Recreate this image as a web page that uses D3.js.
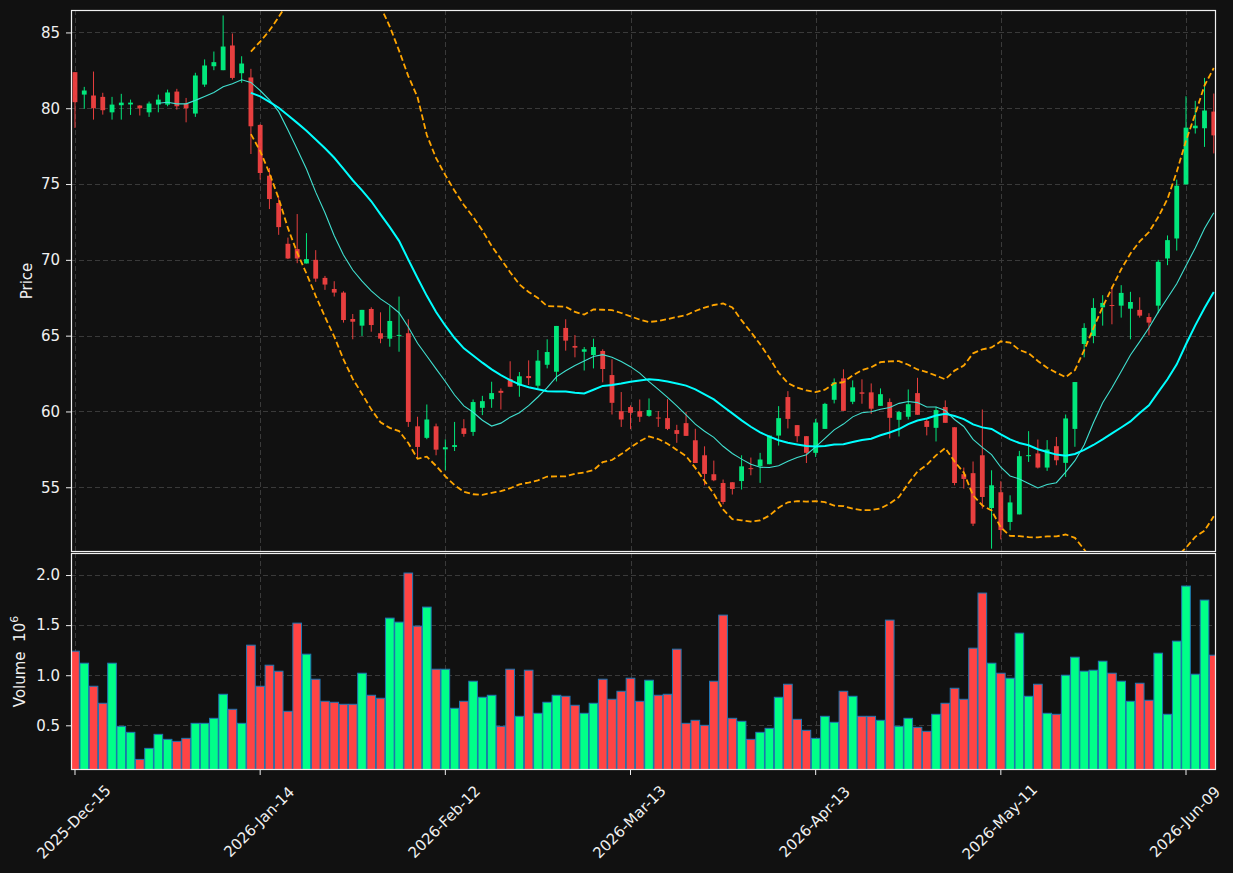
<!DOCTYPE html>
<html>
<head>
<meta charset="utf-8">
<script src="https://cdn.jsdelivr.net/npm/d3@7"></script>
<style>
  body { margin: 0; background: #111111; }
  text { font-family: "DejaVu Sans", sans-serif; fill: #f0f0f0; }
</style>
</head>
<body>
<div id="chart"></div>
<script>
// candle data, one entry per trading day (index 0 = 2025-12-15)
const opens = [82.38,80.90,80.84,80.75,79.73,80.20,80.25,80.18,79.73,80.24,80.24,81.10,80.31,79.65,81.56,82.77,82.51,84.14,82.31,82.03,
  78.90,75.55,73.75,71.06,70.71,69.76,70.00,68.81,68.08,67.84,66.10,65.66,66.76,65.16,64.80,65.00,65.16,59.02,58.26,59.02,
  57.50,57.66,58.89,58.65,60.24,60.81,61.36,62.14,61.70,62.34,61.70,63.08,62.62,65.51,64.32,63.94,63.72,63.99,62.40,60.02,
  60.29,60.02,59.71,59.60,59.56,58.77,59.23,58.10,57.11,55.86,55.28,55.33,55.41,56.26,56.39,56.52,58.41,60.95,59.10,58.37,
  57.27,58.85,60.77,62.18,60.64,61.26,61.26,60.37,60.62,59.45,59.65,61.21,59.38,58.92,60.29,58.96,55.86,55.93,57.11,53.63,
  54.67,52.71,53.21,57.05,57.23,56.30,57.71,56.61,58.85,64.45,64.98,66.87,67.02,66.98,66.78,66.70,66.23,66.98,70.09,71.41,
  74.98,78.68,78.68,79.78];
const highs = [82.38,81.41,82.42,81.02,80.75,80.95,80.57,80.20,80.44,80.90,81.23,81.28,80.68,82.34,83.22,83.74,86.12,84.93,83.43,82.60,
  78.95,76.06,74.18,71.47,73.02,71.76,70.64,68.94,68.59,67.93,66.43,66.70,66.87,66.54,66.98,67.58,66.08,59.65,60.46,59.20,
  58.16,59.31,59.49,60.79,61.03,61.96,61.52,63.31,62.60,63.37,64.05,64.76,65.64,66.08,65.04,64.25,64.80,64.10,63.44,61.28,
  60.40,60.79,60.86,60.02,60.81,59.12,59.98,58.86,57.70,56.76,55.51,55.33,57.11,56.96,57.27,58.41,60.35,61.34,59.10,58.37,
  59.51,60.57,62.18,62.78,62.05,62.12,61.85,61.52,60.86,60.04,61.45,62.22,59.56,60.31,60.73,58.96,56.30,56.70,60.13,56.12,
  55.40,54.47,57.40,58.70,58.15,58.11,58.32,59.80,61.94,65.82,67.47,67.67,68.24,68.33,67.89,67.53,66.48,70.00,71.61,75.29,
  80.79,80.49,82.00,80.97];
const lows = [78.70,79.96,79.25,79.58,79.25,79.25,79.56,79.52,79.43,79.73,80.13,79.91,79.07,79.43,81.41,82.51,82.51,81.89,81.68,76.98,
  75.29,73.35,71.65,70.05,69.78,69.76,68.55,68.02,67.58,65.86,64.76,64.98,65.26,64.50,64.27,63.94,58.98,57.00,58.17,57.11,
  56.12,57.39,58.33,58.39,59.76,60.24,60.13,61.63,60.97,61.74,61.54,62.84,61.98,64.01,63.57,62.70,62.84,61.92,59.80,58.98,
  58.83,59.31,59.65,58.98,58.77,57.93,58.39,56.60,55.13,55.40,53.88,54.52,54.85,55.79,55.29,56.52,57.75,58.88,57.97,56.60,
  57.00,58.85,60.53,60.04,60.48,60.51,59.84,60.37,58.22,58.35,59.47,59.78,58.42,58.02,59.25,55.13,54.91,52.44,53.59,50.95,
  51.56,52.16,53.21,56.67,56.24,56.08,56.45,55.68,57.67,63.57,64.50,65.66,65.75,66.19,64.76,66.19,65.02,66.48,69.65,70.61,
  74.98,78.33,77.45,77.02];
const closes = [80.40,81.17,80.00,79.87,80.24,80.37,80.37,80.00,80.31,80.57,81.04,80.13,80.00,82.16,82.82,83.04,84.07,82.00,82.95,78.81,
  75.73,74.01,72.16,70.09,70.09,70.05,68.76,68.37,67.84,66.03,65.92,66.70,65.70,64.80,65.97,65.05,59.31,57.66,59.47,57.48,
  57.64,57.78,58.52,60.62,60.68,61.21,61.23,61.63,62.32,62.20,63.35,63.92,65.64,64.67,64.21,64.10,64.25,62.80,60.57,59.47,
  59.91,59.65,60.09,59.55,58.85,58.52,58.39,56.60,55.88,55.46,54.03,54.89,56.38,56.20,56.83,58.41,59.56,59.51,58.37,57.27,
  59.27,60.50,61.92,60.04,61.59,61.17,60.18,61.14,59.58,59.96,60.48,59.78,58.98,60.09,59.25,55.28,55.55,52.60,54.36,55.13,
  52.18,54.00,57.05,57.12,56.30,57.49,56.78,59.54,61.94,65.51,66.83,67.16,66.98,67.82,67.22,66.32,65.86,69.87,71.30,74.89,
  78.72,78.85,79.85,78.21];
// volume in millions
const volumes = [1.24,1.12,0.89,0.72,1.12,0.49,0.43,0.16,0.27,0.41,0.36,0.34,0.37,0.52,0.52,0.57,0.81,0.66,0.52,1.30,
  0.89,1.10,1.04,0.64,1.52,1.21,0.96,0.74,0.73,0.71,0.71,1.02,0.80,0.77,1.57,1.53,2.02,1.49,1.68,1.06,
  1.06,0.67,0.74,0.94,0.78,0.80,0.49,1.06,0.59,1.05,0.62,0.73,0.80,0.79,0.70,0.62,0.72,0.96,0.76,0.84,
  0.97,0.74,0.95,0.80,0.81,1.26,0.52,0.55,0.50,0.94,1.60,0.57,0.54,0.36,0.43,0.47,0.78,0.91,0.56,0.45,
  0.37,0.59,0.53,0.84,0.79,0.59,0.59,0.55,1.55,0.49,0.57,0.48,0.44,0.61,0.72,0.87,0.76,1.27,1.82,1.12,
  1.02,0.97,1.42,0.79,0.91,0.62,0.61,1.00,1.18,1.04,1.05,1.14,1.02,0.94,0.74,0.92,0.75,1.22,0.61,1.34,
  1.89,1.01,1.75,1.20];

const tickIdx = [0, 20, 40, 60, 80, 100, 120];
const tickLabels = ["2025-Dec-15", "2026-Jan-14", "2026-Feb-12", "2026-Mar-13", "2026-Apr-13", "2026-May-11", "2026-Jun-09"];
const priceTicks = [55, 60, 65, 70, 75, 80, 85];
const volTicks = [0.5, 1.0, 1.5, 2.0];

const width = 1233, height = 873;
const plot = { left: 71, right: 1216 };
const pricePanel = { top: 10, bottom: 552 };
const volPanel = { top: 553, bottom: 770 };

const upColor = "#00ff88", downColor = "#ff4444";
const fontSize = "15px";

const svg = d3.select("#chart").append("svg")
  .attr("width", width).attr("height", height)
  .style("background", "#111111");

const n = closes.length;
const x = d3.scaleLinear().domain([-0.432, 123.24]).range([plot.left, plot.right]);
const y = d3.scaleLinear().domain([50.73, 86.48]).range([pricePanel.bottom, pricePanel.top]);
const yv = d3.scaleLinear().domain([0.054, 2.22]).range([volPanel.bottom, volPanel.top]);
const step = x(1) - x(0);

// rolling stats on closes (simple moving average, sample std)
function rolling(arr, w, fn) {
  return arr.map((_, i) => i < w - 1 ? null : fn(arr.slice(i - w + 1, i + 1)));
}
const ma10 = rolling(closes, 10, d3.mean);
const ma20 = rolling(closes, 20, d3.mean);
const sd20 = rolling(closes, 20, d3.deviation);
const bbUp = ma20.map((m, i) => m == null ? null : m + 2 * sd20[i]);
const bbLo = ma20.map((m, i) => m == null ? null : m - 2 * sd20[i]);

const defs = svg.append("defs");
defs.append("clipPath").attr("id", "clipPrice").append("rect")
  .attr("x", plot.left).attr("y", pricePanel.top)
  .attr("width", plot.right - plot.left).attr("height", pricePanel.bottom - pricePanel.top);
defs.append("clipPath").attr("id", "clipVol").append("rect")
  .attr("x", plot.left).attr("y", volPanel.top)
  .attr("width", plot.right - plot.left).attr("height", volPanel.bottom - volPanel.top);

// grids
const gridColor = "#3a3a3a";
function grid(panel, scale, ticks) {
  const g = svg.append("g").attr("stroke", gridColor).attr("stroke-width", 1).attr("stroke-dasharray", "5,3");
  g.selectAll(".h").data(ticks).join("line")
    .attr("x1", plot.left).attr("x2", plot.right)
    .attr("y1", d => Math.round(scale(d)) + 0.5).attr("y2", d => Math.round(scale(d)) + 0.5);
  g.selectAll(".v").data(tickIdx).join("line")
    .attr("x1", d => Math.round(x(d)) + 0.5).attr("x2", d => Math.round(x(d)) + 0.5)
    .attr("y1", panel.top).attr("y2", panel.bottom);
}
grid(pricePanel, y, priceTicks);
grid(volPanel, yv, volTicks);

// candles
const cg = svg.append("g").attr("clip-path", "url(#clipPrice)").attr("opacity", 0.9);
const idx = d3.range(n);
cg.selectAll(".wick").data(idx).join("line")
  .attr("x1", i => x(i)).attr("x2", i => x(i))
  .attr("y1", i => y(highs[i])).attr("y2", i => y(lows[i]))
  .attr("stroke", i => closes[i] >= opens[i] ? upColor : downColor)
  .attr("stroke-width", 1);
cg.selectAll(".body").data(idx).join("rect")
  .attr("x", i => x(i) - step * 0.26)
  .attr("width", step * 0.52)
  .attr("y", i => y(Math.max(opens[i], closes[i])))
  .attr("height", i => Math.max(1, Math.abs(y(opens[i]) - y(closes[i]))))
  .attr("fill", i => closes[i] >= opens[i] ? upColor : downColor);

// moving averages and bands
const lg = svg.append("g").attr("clip-path", "url(#clipPrice)").attr("fill", "none");
const line = arr => d3.line()
  .defined(i => arr[i] != null)
  .x(i => x(i)).y(i => y(arr[i]))(idx);
lg.append("path").attr("d", line(ma10)).attr("stroke", "#40e0d0").attr("stroke-width", 1.1);
lg.append("path").attr("d", line(ma20)).attr("stroke", "#00ffff").attr("stroke-width", 2);
[bbUp, bbLo].forEach(b => {
  lg.append("path").attr("d", line(b)).attr("stroke", "#ffa500")
    .attr("stroke-width", 1.8).attr("stroke-dasharray", "6,3");
});

// volume bars
svg.append("g").attr("clip-path", "url(#clipVol)")
  .selectAll("rect").data(idx).join("rect")
  .attr("x", i => x(i) - step / 2 + 0.3)
  .attr("width", step - 0.6)
  .attr("y", i => yv(volumes[i]))
  .attr("height", i => yv.range()[0] - yv(volumes[i]))
  .attr("fill", i => closes[i] >= opens[i] ? upColor : downColor)
  .attr("stroke", "#1f77b4").attr("stroke-width", 1);

// frames
[pricePanel, volPanel].forEach(p => {
  svg.append("rect")
    .attr("x", plot.left + 0.5).attr("y", p.top + 0.5)
    .attr("width", plot.right - plot.left - 1).attr("height", p.bottom - p.top - 1)
    .attr("fill", "none").attr("stroke", "#f0f0f0").attr("stroke-width", 1.2);
});

// y axes
function yAxis(scale, ticks, fmt) {
  const g = svg.append("g")
    .attr("transform", `translate(${plot.left},0)`)
    .call(d3.axisLeft(scale).tickValues(ticks).tickFormat(fmt).tickSize(5).tickPadding(6));
  g.select(".domain").remove();
  g.selectAll(".tick line").attr("stroke", "#f0f0f0");
  g.selectAll(".tick text").attr("fill", "#f0f0f0").style("font-size", fontSize)
    .style("font-family", "DejaVu Sans");
}
yAxis(y, priceTicks, d3.format("d"));
yAxis(yv, volTicks, d3.format(".1f"));

// x ticks and labels
const xg = svg.append("g");
xg.selectAll("line").data(tickIdx).join("line")
  .attr("x1", d => x(d)).attr("x2", d => x(d))
  .attr("y1", volPanel.bottom).attr("y2", volPanel.bottom + 5)
  .attr("stroke", "#f0f0f0");
xg.selectAll("text").data(tickIdx).join("text")
  .attr("transform", d => `translate(${x(d) - 1},${822}) rotate(-45)`)
  .attr("text-anchor", "middle")
  .attr("dominant-baseline", "central")
  .style("font-size", fontSize)
  .text((d, i) => tickLabels[i]);

// axis titles
svg.append("text")
  .attr("transform", `translate(27,${(pricePanel.top + pricePanel.bottom) / 2}) rotate(-90)`)
  .attr("text-anchor", "middle").attr("dominant-baseline", "central")
  .style("font-size", fontSize).text("Price");
const vt = svg.append("text")
  .attr("transform", `translate(20,${(volPanel.top + volPanel.bottom) / 2}) rotate(-90)`)
  .attr("text-anchor", "middle").attr("dominant-baseline", "central")
  .style("font-size", fontSize);
vt.append("tspan").text("Volume\u00a0\u00a010");
vt.append("tspan").attr("dy", -6).style("font-size", "11px").text("6");
</script>
</body>
</html>
